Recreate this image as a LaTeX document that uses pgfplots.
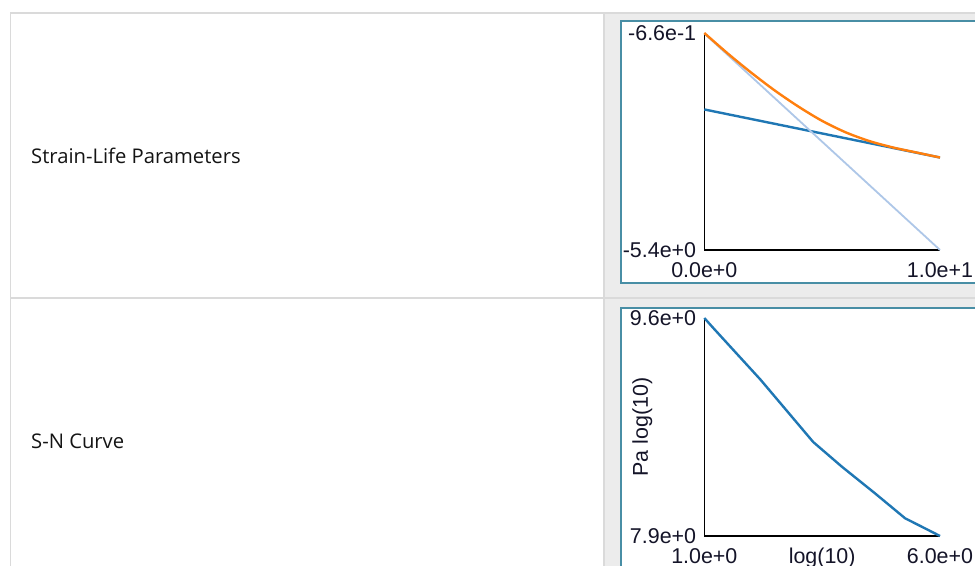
\documentclass[border=0pt]{standalone}
\usepackage{fontspec}
\setmainfont{Open Sans}
\newfontfamily\arialf{Liberation Sans}
\usepackage{pgfplots}
\pgfplotsset{compat=1.18}
\definecolor{panelgrey}{RGB}{236,236,236}
\definecolor{gridgrey}{RGB}{218,218,218}
\definecolor{frameteal}{RGB}{72,142,165}
\definecolor{labeltext}{RGB}{20,20,20}
\definecolor{ticktext}{RGB}{20,20,40}
\definecolor{tabblue}{RGB}{31,119,180}
\definecolor{taborange}{RGB}{255,127,14}
\definecolor{tablight}{RGB}{174,199,232}
\pgfplotsset{
  smallchart/.style={
    anchor=south west, scale only axis, clip=false,
    axis x line=bottom, axis y line=left,
    axis line style={-, line width=1.5bp, black},
    major tick length=0pt, tick style={draw=none},
    ticklabel style={font=\arialf\fontsize{21.5}{25}\selectfont, text=ticktext},
    xticklabel style={anchor=north, inner sep=0pt, yshift=-12bp},
    yticklabel style={anchor=east, inner sep=0pt, xshift=-8bp},
    label style={font=\arialf\fontsize{21.5}{25}\selectfont, text=ticktext},
  }
}
\begin{document}
\begin{tikzpicture}
\useasboundingbox (0bp,0bp) rectangle (975bp,566bp);
\begin{scope}
\clip (0bp,0bp) rectangle (975bp,566bp);
\fill[white] (0bp,0bp) rectangle (975bp,566bp);
\fill[panelgrey] (605bp,0bp) rectangle (975bp,553bp);
\draw[gridgrey, line width=1.5bp] (10bp,553bp) -- (975bp,553bp);
\draw[gridgrey, line width=1.5bp] (10.5bp,0bp) -- (10.5bp,553bp);
\draw[gridgrey, line width=1.5bp] (604bp,0bp) -- (604bp,553bp);
\draw[gridgrey, line width=1.5bp] (10bp,268bp) -- (975bp,268bp);
\draw[frameteal, fill=white, line width=1.5bp] (621bp,545bp) rectangle (995bp,283bp);
\draw[frameteal, fill=white, line width=1.5bp] (621bp,258bp) rectangle (995bp,-30bp);
\node[anchor=west, inner sep=0pt, font=\fontsize{20.3}{24}\selectfont, text=labeltext] at (31bp,410bp) {Strain-Life Parameters};
\node[anchor=west, inner sep=0pt, font=\fontsize{20.3}{24}\selectfont, text=labeltext] at (31bp,125bp) {S-N Curve};

\begin{axis}[smallchart, at={(704.3bp,316bp)}, width=235.7bp, height=217bp,
  xmin=0, xmax=10, ymin=-5.4, ymax=-0.66,
  xtick={0,10}, xticklabels={0.0e+0,1.0e+1},
  ytick={-5.4,-0.66}, yticklabels={-5.4e+0,-6.6e-1}]
\addplot[draw=tabblue, line width=2.4bp] coordinates {(0,-2.33) (10,-3.38)};
\addplot[draw=tablight, line width=1.8bp] coordinates {(0,-0.67) (10,-5.4)};
\addplot[draw=taborange, line width=2.4bp, smooth] coordinates {
  (0,-0.66) (1,-1.11) (2,-1.53) (3,-1.92) (4,-2.27) (5,-2.58)
  (6,-2.83) (7,-3.02) (8,-3.16) (9,-3.27) (10,-3.38)};
\end{axis}

\begin{axis}[smallchart, at={(704.3bp,30bp)}, width=235.7bp, height=218bp,
  xmin=1, xmax=6, ymin=7.9, ymax=9.6,
  xtick={1,6}, xticklabels={1.0e+0,6.0e+0},
  ytick={7.9,9.6}, yticklabels={7.9e+0,9.6e+0},
  xlabel={log(10)}, ylabel={Pa log(10)},
  xlabel style={at={(axis description cs:0.5,0)}, anchor=center, yshift=-22bp},
  ylabel style={at={(axis description cs:0,0.5)}, anchor=center, yshift=62bp}]
\addplot[draw=tabblue, line width=2.4bp] coordinates {
  (1,9.6) (1.19,9.522) (2.19,9.12) (3.31,8.633) (3.92,8.44)
  (4.62,8.233) (5.26,8.038) (5.54,7.986) (6,7.9)};
\end{axis}
\end{scope}
\end{tikzpicture}
\end{document}
